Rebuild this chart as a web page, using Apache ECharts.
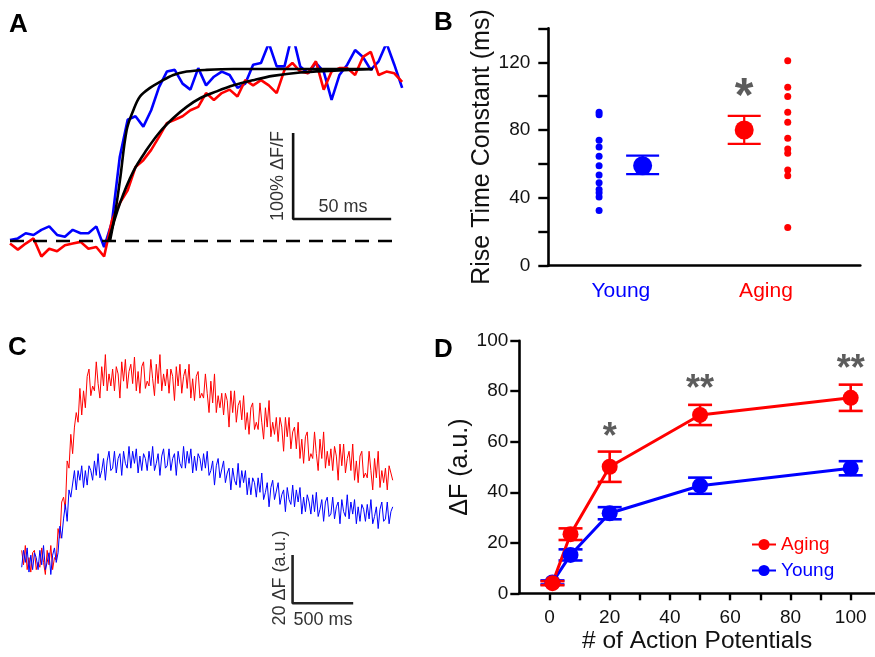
<!DOCTYPE html>
<html>
<head>
<meta charset="utf-8">
<script src="https://cdn.jsdelivr.net/npm/echarts@6/dist/echarts.min.js"></script>
<style>
html,body{margin:0;padding:0;background:#fff;}
#chart{width:875px;height:657px;}
</style>
</head>
<body>
<div id="chart"></div>
<script>
// ---------- Panel A : normalized rise (% dF/F), sampled every 4 ms ----------
const stepA = 4;
const youngTraceA = [1,3,9,7,13,17,7,5,13,9,9,17,-7,22,98,141,145,133,152,179,197,199,183,176,201,181,191,197,193,178,183,205,207,230,203,203,241,203,195,207,197,164,193,205,222,214,199,209,230,205,178];
const agingTraceA = [-3,-10,-3,3,-18,-9,-12,-5,-3,-1,-9,-7,-18,24,44,59,86,94,106,121,137,141,145,152,156,172,164,172,176,168,187,181,187,181,172,199,207,197,195,209,176,197,201,201,193,214,220,193,197,195,185];
const youngFitA = [[51,0],[53.6,32],[56.1,71],[59.5,129],[62.9,152],[66.3,168],[71.4,178],[76.5,185],[83.3,193],[90.1,197],[100.3,199],[114,200],[185,200]];
const agingFitA = [[50.2,0],[56.1,44],[62.9,81],[69.7,106],[76.5,127],[83.3,143],[90.1,156],[96.9,166],[105.4,174],[114,181],[124,187],[134,192],[148,196],[165,198],[185,200]];
const baselineA = [[0,0],[198,0]];
const scaleBarA = {ms:50, pct:100};

// ---------- Panel B : rise time constants (ms) ----------
const groupsB = ['Young','Aging'];
const youngDotsB = [90.5,89,74,70,64.5,59,53.5,49,45,43,40.5,32.5];
const agingDotsB = [120.9,105.3,99.8,90.6,84.6,75.2,68.9,66.3,56.5,53.1,22.6];
const meanB = [59,80.1];
const semLowB = [54,71.9];
const semHighB = [65,88.4];
const starB = '*';
const yTicksB = [0,40,80,120];

// ---------- Panel C : dF (a.u.) traces, sampled every 15 ms ----------
const stepC = 15;
const agingTraceC = [
  4,-2,6,-4,1,-5,3,4,-4,-1,
  -3,5,-1,-6,4,-2,6,-4,1,0,
  13,9,24,26,21,41,38,52,44,55,
  61,57,71,60,70,63,76,79,68,72,
  70,82,73,67,80,72,85,70,77,72,
  79,70,80,77,67,82,74,83,71,78,
  81,73,84,70,78,69,80,82,71,74,
  72,83,75,68,81,73,85,70,77,72,
  79,69,79,76,66,80,72,81,69,76,
  79,71,81,67,75,66,76,78,67,69,
  67,77,69,61,74,65,77,61,68,63,
  69,60,69,66,55,70,61,70,57,64,
  66,58,68,54,61,52,63,65,54,57,
  54,65,57,50,63,55,66,51,57,52,
  59,49,59,55,45,59,51,59,46,53,
  55,46,57,42,50,40,51,53,41,44,
  42,53,44,37,50,42,53,38,45,39,
  46,37,47,43,33,48,39,48,36,42,
  45,37,48,33,41,32,43,45,34,36,
  34,45,37,29,42,34,45,30,37,32,
  38,29,39,36,33];
const youngTraceC = [
  -3,4,-1,5,-5,2,-4,3,1,-4,
  4,-2,6,-4,-1,3,-6,2,5,-1,
  3,14,9,17,23,16,29,26,26,37,
  29,37,33,39,30,37,31,39,37,33,
  41,35,44,34,37,42,33,41,45,37,
  38,45,36,42,44,35,45,40,38,47,
  38,45,40,46,36,43,37,44,42,37,
  45,39,47,37,40,44,35,43,46,38,
  39,46,37,42,44,35,45,40,38,47,
  38,45,40,46,36,43,37,44,42,37,
  44,38,45,35,37,41,31,39,42,34,
  34,41,32,36,38,29,38,33,31,40,
  30,37,32,37,27,34,27,34,32,26,
  34,28,36,25,28,32,22,30,33,25,
  25,32,23,27,29,20,30,25,23,31,
  22,29,24,30,19,26,20,27,24,19,
  27,20,28,18,21,25,16,24,26,18,
  19,26,17,22,24,15,25,20,18,27,
  17,24,19,25,15,22,16,23,21,16,
  23,17,25,15,18,22,13,21,24,16,
  17,24,15,20,22];
const scaleBarC = {ms:500, au:20};

// ---------- Panel D : dF vs number of action potentials ----------
const apCounts = [1,7,20,50,100];
const agingMeanD = [4,23.4,50.1,70.6,77.4];
const agingSemD = [0.8,2.3,6,4,5.2];
const youngMeanD = [4.3,15.2,31.7,42.6,49.5];
const youngSemD = [0.8,2.2,2.4,3.2,2.8];
const starAPs = [20,50,100];
const starLevels = [64.6,83.8,91.7];
const starLabels = ['*','**','**'];
const xTicksD = [0,10,20,30,40,50,60,70,80,90,100];
const xLabelsD = [0,20,40,60,80,100];

// ---------------------------------------------------------------
const RED = '#ff0000', BLUE = '#0000ff', INK = '#111', GREY = '#333';
const FONT = '"Liberation Sans", Arial, Helvetica, sans-serif';

function errBar(capHalf, width){
  return function(params, api){
    const x = api.value(0);
    const lo = api.coord([x, api.value(1)]);
    const hi = api.coord([x, api.value(2)]);
    const st = {stroke: api.visual('color'), lineWidth: width};
    return {type:'group', children:[
      {type:'line', shape:{x1:lo[0],y1:lo[1],x2:hi[0],y2:hi[1]}, style:st},
      {type:'line', shape:{x1:lo[0]-capHalf,y1:lo[1],x2:lo[0]+capHalf,y2:lo[1]}, style:st},
      {type:'line', shape:{x1:hi[0]-capHalf,y1:hi[1],x2:hi[0]+capHalf,y2:hi[1]}, style:st}
    ]};
  };
}

const chart = echarts.init(document.getElementById('chart'), null, {renderer:'canvas'});

const sbA0 = [144.4, 25.6];
const sbC0 = [2234, -17.9];

const option = {
  animation:false,
  backgroundColor:'#fff',
  textStyle:{fontFamily:FONT},
  grid:[
    {left:10, top:47.5, width:400, height:215},
    {left:548.3, top:28.4, width:312, height:237.3},
    {left:21.7, top:342.5, width:388, height:290},
    {left:519.3, top:340.7, width:355.5, height:252.6}
  ],
  xAxis:[
    {gridIndex:0, type:'value', min:0, max:204, show:false},
    {gridIndex:1, type:'value', min:0.5, max:2.65,
      splitLine:{show:false},
      axisLine:{lineStyle:{color:'#000', width:2.6}},
      axisTick:{show:false},
      axisLabel:{customValues:[1,2], margin:15, fontSize:21, fontFamily:FONT,
        formatter:function(v){ return v===1 ? '{y|'+groupsB[0]+'}' : '{a|'+groupsB[1]+'}'; },
        rich:{y:{color:BLUE, fontSize:21, fontFamily:FONT}, a:{color:RED, fontSize:21, fontFamily:FONT}}}
    },
    {gridIndex:2, type:'value', min:0, max:3200, show:false},
    {gridIndex:3, type:'value', min:-10, max:108,
      splitLine:{show:false},
      axisLine:{onZero:false, lineStyle:{color:'#000', width:2.6}},
      axisTick:{customValues:xTicksD, length:7, lineStyle:{color:'#000', width:2.4}},
      axisLabel:{customValues:xLabelsD, margin:15, fontSize:19, color:INK, fontFamily:FONT},
      name:'# of Action Potentials', nameLocation:'middle', nameGap:35,
      nameTextStyle:{fontSize:24.5, color:INK, fontFamily:FONT}
    }
  ],
  yAxis:[
    {gridIndex:0, type:'value', min:-25, max:225, show:false},
    {gridIndex:1, type:'value', min:0, max:140, interval:20,
      splitLine:{show:false},
      axisLine:{show:true, lineStyle:{color:'#000', width:2.6}},
      axisTick:{show:true, length:10, lineStyle:{color:'#000', width:2.4}},
      axisLabel:{margin:18, fontSize:19, color:INK, fontFamily:FONT,
        formatter:function(v){ return yTicksB.indexOf(v)>=0 ? String(v) : ''; }},
      name:'Rise Time Constant (ms)', nameLocation:'middle', nameGap:52,
      nameTextStyle:{fontSize:25, color:INK, fontFamily:FONT}
    },
    {gridIndex:2, type:'value', min:-30, max:90, show:false},
    {gridIndex:3, type:'value', min:0, max:100, interval:20,
      splitLine:{show:false},
      axisLine:{show:true, onZero:false, lineStyle:{color:'#000', width:2.6}},
      axisTick:{show:true, length:9, lineStyle:{color:'#000', width:2.4}},
      axisLabel:{margin:11, fontSize:19, color:INK, fontFamily:FONT},
      name:'\u0394F (a.u.)', nameLocation:'middle', nameGap:41,
      nameTextStyle:{fontSize:25, color:INK, fontFamily:FONT}
    }
  ],
  legend:{
    data:[{name:'Aging', textStyle:{color:RED}}, {name:'Young', textStyle:{color:BLUE}}],
    orient:'vertical', left:746, top:530, itemWidth:24, itemHeight:14, itemGap:7,
    textStyle:{fontSize:19, fontFamily:FONT}, selectedMode:false
  },
  graphic:[
    {type:'text', left:9, top:12, style:{text:'A', font:'bold 26px '+FONT, fill:'#000'}},
    {type:'text', left:434, top:10, style:{text:'B', font:'bold 26px '+FONT, fill:'#000'}},
    {type:'text', left:8, top:335, style:{text:'C', font:'bold 26px '+FONT, fill:'#000'}},
    {type:'text', left:434, top:337, style:{text:'D', font:'bold 26px '+FONT, fill:'#000'}},
    {type:'text', x:278, y:176, rotation:Math.PI/2,
      style:{text:'100% \u0394F/F', font:'18px '+FONT, fill:GREY, align:'center', verticalAlign:'middle'}},
    {type:'text', x:343, y:207,
      style:{text:'50 ms', font:'18px '+FONT, fill:GREY, align:'center', verticalAlign:'middle'}},
    {type:'text', x:280, y:578, rotation:Math.PI/2,
      style:{text:'20 \u0394F (a.u.)', font:'18px '+FONT, fill:GREY, align:'center', verticalAlign:'middle'}},
    {type:'text', x:323, y:620,
      style:{text:'500 ms', font:'18px '+FONT, fill:GREY, align:'center', verticalAlign:'middle'}}
  ],
  series:[
    // ----- A -----
    {name:'youngA', type:'line', xAxisIndex:0, yAxisIndex:0, symbol:'none',
      data:youngTraceA.map((v,i)=>[i*stepA, v]), lineStyle:{color:BLUE, width:2.6}},
    {name:'agingA', type:'line', xAxisIndex:0, yAxisIndex:0, symbol:'none',
      data:agingTraceA.map((v,i)=>[i*stepA, v]), lineStyle:{color:RED, width:2.6}},
    {name:'fitYoungA', type:'line', xAxisIndex:0, yAxisIndex:0, symbol:'none', smooth:0.35,
      data:youngFitA, lineStyle:{color:'#000', width:2.6}},
    {name:'fitAgingA', type:'line', xAxisIndex:0, yAxisIndex:0, symbol:'none', smooth:0.35,
      data:agingFitA, lineStyle:{color:'#000', width:2.6}},
    {name:'baseA', type:'line', xAxisIndex:0, yAxisIndex:0, symbol:'none',
      data:baselineA, lineStyle:{color:'#000', width:2.4, type:[14,9]}},
    {name:'scaleA', type:'line', xAxisIndex:0, yAxisIndex:0, symbol:'none',
      data:[[sbA0[0], sbA0[1]+scaleBarA.pct],[sbA0[0], sbA0[1]],[sbA0[0]+scaleBarA.ms, sbA0[1]]],
      lineStyle:{color:'#111', width:2.6}},
    // ----- B -----
    {name:'youngDotsB', type:'scatter', xAxisIndex:1, yAxisIndex:1, symbolSize:7,
      itemStyle:{color:BLUE, opacity:1}, data:youngDotsB.map(v=>[0.85, v])},
    {name:'agingDotsB', type:'scatter', xAxisIndex:1, yAxisIndex:1, symbolSize:7,
      itemStyle:{color:RED, opacity:1}, data:agingDotsB.map(v=>[2.15, v])},
    {name:'semB', type:'custom', xAxisIndex:1, yAxisIndex:1,
      renderItem:errBar(16.5, 2.2), encode:{x:0, y:[1,2]},
      data:[{value:[1.15, semLowB[0], semHighB[0]], itemStyle:{color:BLUE}},
            {value:[1.85, semLowB[1], semHighB[1]], itemStyle:{color:RED}}]},
    {name:'meanB', type:'scatter', xAxisIndex:1, yAxisIndex:1, symbolSize:19,
      data:[{value:[1.15, meanB[0]], itemStyle:{color:BLUE, opacity:1}},
            {value:[1.85, meanB[1]], itemStyle:{color:RED, opacity:1}}]},
    {name:'starB', type:'scatter', xAxisIndex:1, yAxisIndex:1, symbolSize:1,
      itemStyle:{color:'rgba(0,0,0,0)'}, data:[[1.85, 105.4]],
      label:{show:true, position:'inside', formatter:starB, fontSize:48, fontWeight:'bold', color:GREY,
        fontFamily:FONT, offset:[0,11]}},
    // ----- C -----
    {name:'agingC', type:'line', xAxisIndex:2, yAxisIndex:2, symbol:'none',
      data:agingTraceC.map((v,i)=>[i*stepC, v]), lineStyle:{color:RED, width:1}},
    {name:'youngC', type:'line', xAxisIndex:2, yAxisIndex:2, symbol:'none',
      data:youngTraceC.map((v,i)=>[i*stepC, v]), lineStyle:{color:BLUE, width:1}},
    {name:'scaleC', type:'line', xAxisIndex:2, yAxisIndex:2, symbol:'none',
      data:[[sbC0[0], sbC0[1]+scaleBarC.au],[sbC0[0], sbC0[1]],[sbC0[0]+scaleBarC.ms, sbC0[1]]],
      lineStyle:{color:'#222', width:2.6}},
    // ----- D -----
    {name:'semYoungD', type:'custom', xAxisIndex:3, yAxisIndex:3,
      renderItem:errBar(12, 2.6), encode:{x:0, y:[1,2]}, itemStyle:{color:BLUE},
      data:apCounts.map((x,i)=>[x, youngMeanD[i]-youngSemD[i], youngMeanD[i]+youngSemD[i]])},
    {name:'Young', type:'line', xAxisIndex:3, yAxisIndex:3, symbol:'circle', symbolSize:16,
      itemStyle:{color:BLUE}, lineStyle:{color:BLUE, width:3},
      data:apCounts.map((x,i)=>[x, youngMeanD[i]])},
    {name:'semAgingD', type:'custom', xAxisIndex:3, yAxisIndex:3,
      renderItem:errBar(12, 2.6), encode:{x:0, y:[1,2]}, itemStyle:{color:RED},
      data:apCounts.map((x,i)=>[x, agingMeanD[i]-agingSemD[i], agingMeanD[i]+agingSemD[i]])},
    {name:'Aging', type:'line', xAxisIndex:3, yAxisIndex:3, symbol:'circle', symbolSize:16,
      itemStyle:{color:RED}, lineStyle:{color:RED, width:3},
      data:apCounts.map((x,i)=>[x, agingMeanD[i]])},
    {name:'starsD', type:'scatter', xAxisIndex:3, yAxisIndex:3, symbolSize:1,
      itemStyle:{color:'rgba(0,0,0,0)'},
      data:starAPs.map((x,i)=>[x, starLevels[i]]),
      label:{show:true, position:'inside', fontSize:36, fontWeight:'bold', color:GREY, fontFamily:FONT,
        offset:[0,8], formatter:function(p){ return starLabels[p.dataIndex]; }}}
  ]
};
chart.setOption(option);
</script>
</body>
</html>
